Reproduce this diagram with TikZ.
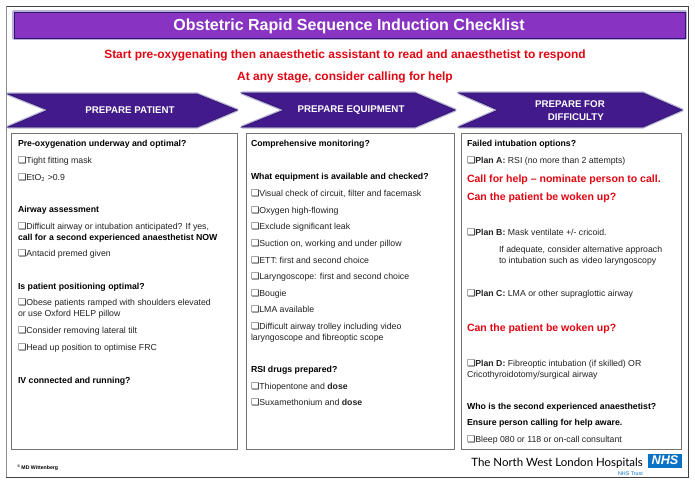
\documentclass[tikz,border=0pt]{standalone}
\usepackage{fontspec}
\setmainfont{Liberation Sans}
\newfontfamily\djv{DejaVu Sans}
\newfontfamily\lat{Lato}
\definecolor{titlepurple}{HTML}{8833C2}
\definecolor{arrowpurple}{HTML}{431A8C}
\definecolor{glowpurple}{HTML}{B9B1D6}
\definecolor{edgepurple}{HTML}{2E1670}
\definecolor{alertred}{HTML}{E30613}
\definecolor{nhsblue}{HTML}{0A72C4}
\definecolor{bodygrey}{HTML}{222222}
\newcommand{\cb}{{\djv\fontsize{7}{7}\selectfont ❏}}
\tikzset{
  bt/.style={anchor=base west,inner sep=0pt,outer sep=0pt,font=\fontsize{6.55}{8}\selectfont\bfseries,text=black},
  nt/.style={anchor=base west,inner sep=0pt,outer sep=0pt,font=\fontsize{6.55}{8}\selectfont,text=bodygrey},
  rt/.style={anchor=base west,inner sep=0pt,outer sep=0pt,font=\fontsize{7.9}{9}\selectfont\bfseries,text=alertred},
  headred/.style={anchor=base,inner sep=0pt,outer sep=0pt,font=\fontsize{8.95}{10}\selectfont\bfseries,text=alertred},
  arrowlabel/.style={inner sep=0pt,outer sep=0pt,align=center,font=\fontsize{7.3}{9.6}\selectfont\bfseries,text=white},
  glow/.style={draw=glowpurple,line width=2.4pt,line join=round},
  arrowshape/.style={fill=arrowpurple,draw=edgepurple,line width=0.5pt},
  panel/.style={draw=black!55,line width=0.7pt,fill=white},
}
\begin{document}
\begin{tikzpicture}[x=0.75pt,y=-0.75pt]
\useasboundingbox (0,0) rectangle (695,486);
\fill[white] (0,0) rectangle (695,486);
% outer frame
\draw[black!75,line width=0.75pt,fill=white] (6,6) rectangle (688,477);
\draw[black!45,line width=1pt] (6.3,6) -- (6.3,477);
% title
\draw[glow] (14,12) rectangle (685,38);
\draw[fill=titlepurple,draw=edgepurple,line width=0.6pt] (14,12) rectangle (685,38);
\node[inner sep=0pt,text=white,font=\fontsize{12}{14}\selectfont\bfseries] (title) at (349,26) {Obstetric Rapid Sequence Induction Checklist};
\node[headred] (head1) at (345,58) {Start pre-oxygenating then anaesthetic assistant to read and anaesthetist to respond};
\node[headred] (head2) at (345,80) {At any stage, consider calling for help};
% arrows
\draw[glow] (8,94) -- (197,94) -- (237,110) -- (197,127) -- (8,127) -- (48,110) -- cycle;
\draw[arrowshape] (8,94) -- (197,94) -- (237,110) -- (197,127) -- (8,127) -- (48,110) -- cycle;
\node[arrowlabel] (a1) at (130,110.5) {PREPARE PATIENT};
\draw[glow] (242,93) -- (415,93) -- (455,110) -- (415,127) -- (242,127) -- (284,110) -- cycle;
\draw[arrowshape] (242,93) -- (415,93) -- (455,110) -- (415,127) -- (242,127) -- (284,110) -- cycle;
\node[arrowlabel] (a2) at (351,110.5) {PREPARE EQUIPMENT};
\draw[glow] (459,93) -- (643,93) -- (682,110) -- (643,127) -- (459,127) -- (498,110) -- cycle;
\draw[arrowshape] (459,93) -- (643,93) -- (682,110) -- (643,127) -- (459,127) -- (498,110) -- cycle;
\node[arrowlabel] (a3) at (570,110.5) {PREPARE FOR\\\hspace*{1.2em}DIFFICULTY};
% panels
\draw[panel] (11,133) rectangle (237,449);
\draw[panel] (246,133) rectangle (454,449);
\draw[panel] (461,133) rectangle (681,449);
% column 1
\node[bt] (c1a) at (18,146) {Pre-oxygenation underway and optimal?};
\node[nt] (c1b) at (18,163) {\cb Tight fitting mask};
\node[nt] (c1c) at (18,180) {\cb EtO$_{\mathsf{2}}$ >0.9};
\node[bt] (c1d) at (18,212) {Airway assessment};
\node[nt] (c1e) at (18,229) {\cb Difficult airway or intubation anticipated? If yes,};
\node[bt] (c1f) at (18,240) {call for a second experienced anaesthetist NOW};
\node[nt] (c1g) at (18,256) {\cb Antacid premed given};
\node[bt] (c1h) at (18,289) {Is patient positioning optimal?};
\node[nt] (c1i) at (18,305) {\cb Obese patients ramped with shoulders elevated};
\node[nt] (c1j) at (18,316) {or use Oxford HELP pillow};
\node[nt] (c1k) at (18,333) {\cb Consider removing lateral tilt};
\node[nt] (c1l) at (18,350) {\cb Head up position to optimise FRC};
\node[bt] (c1m) at (18,383) {IV connected and running?};
% column 2
\node[bt] (c2a) at (251,146) {Comprehensive monitoring?};
\node[bt] (c2b) at (251,179) {What equipment is available and checked?};
\node[nt] (c2c) at (251,196) {\cb Visual check of circuit, filter and facemask};
\node[nt] (c2d) at (251,213) {\cb Oxygen high-flowing};
\node[nt] (c2e) at (251,229) {\cb Exclude significant leak};
\node[nt] (c2f) at (251,246) {\cb Suction on, working and under pillow};
\node[nt] (c2g) at (251,263) {\cb ETT: first and second choice};
\node[nt] (c2h) at (251,279) {\cb Laryngoscope: first and second choice};
\node[nt] (c2i) at (251,296) {\cb Bougie};
\node[nt] (c2j) at (251,312) {\cb LMA available};
\node[nt] (c2k) at (251,329) {\cb Difficult airway trolley including video};
\node[nt] (c2l) at (251,340) {laryngoscope and fibreoptic scope};
\node[bt] (c2m) at (251,372) {RSI drugs prepared?};
\node[nt] (c2n) at (251,389) {\cb Thiopentone and \textbf{dose}};
\node[nt] (c2o) at (251,405) {\cb Suxamethonium and \textbf{dose}};
% column 3
\node[bt] (c3a) at (467,146) {Failed intubation options?};
\node[nt] (c3b) at (467,163) {\cb \textbf{Plan A:} RSI (no more than 2 attempts)};
\node[rt] (c3c) at (467,182) {Call for help -- nominate person to call.};
\node[rt] (c3d) at (467,200) {Can the patient be woken up?};
\node[nt] (c3e) at (467,235) {\cb \textbf{Plan B:} Mask ventilate +/- cricoid.};
\node[nt] (c3f) at (499,252) {If adequate, consider alternative approach};
\node[nt] (c3g) at (499,263) {to intubation such as video laryngoscopy};
\node[nt] (c3h) at (467,296) {\cb \textbf{Plan C:} LMA or other supraglottic airway};
\node[rt] (c3i) at (467,331) {Can the patient be woken up?};
\node[nt] (c3j) at (467,366) {\cb \textbf{Plan D:} Fibreoptic intubation (if skilled) OR};
\node[nt] (c3k) at (467,377) {Cricothyroidotomy/surgical airway};
\node[bt] (c3l) at (467,409) {Who is the second experienced anaesthetist?};
\node[bt] (c3m) at (467,425) {Ensure person calling for help aware.};
\node[nt] (c3n) at (467,442) {\cb Bleep 080 or 118 or on-call consultant};
% footer
\node[anchor=base west,inner sep=0pt,font=\fontsize{3.9}{5}\selectfont\bfseries] (copy) at (17,469) {\raisebox{0.8pt}{\fontsize{2.8}{3}\selectfont©} MD Wittenberg};
\node[anchor=base east,inner sep=0pt,font=\lat\fontsize{8.6}{10}\selectfont] (trust) at (643,466) {The North West London Hospitals};
\node[fill=nhsblue,minimum width=26pt,minimum height=10.5pt,inner sep=0pt,text=white,font=\fontsize{9.5}{10}\selectfont\bfseries\itshape] (nhs) at (665,460.5) {NHS};
\node[anchor=base east,inner sep=0pt,text=nhsblue,font=\fontsize{4}{5}\selectfont] (nhst) at (643,475.5) {NHS Trust};
\end{tikzpicture}
\end{document}
